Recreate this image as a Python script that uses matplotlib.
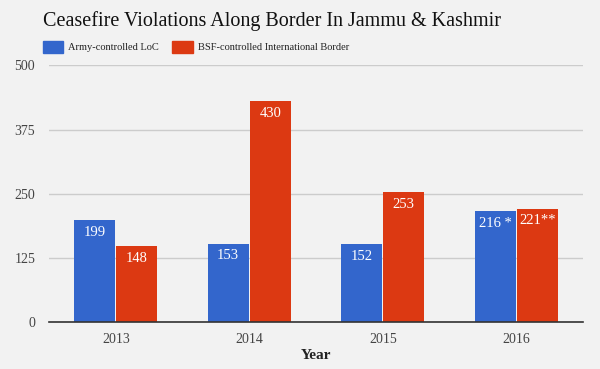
import numpy as np
import matplotlib
matplotlib.use("Agg")
import matplotlib.pyplot as plt
import matplotlib.patches as mpatches

# DATA
years = ["2013", "2014", "2015", "2016"]
loc_values = [199, 153, 152, 216]
ib_values = [148, 430, 253, 221]
loc_labels = ["199", "153", "152", "216 *"]
ib_labels = ["148", "430", "253", "221**"]
series_names = ["Army-controlled LoC", "BSF-controlled International Border"]

plt.rcParams['font.family'] = ['Liberation Serif', 'DejaVu Serif']

BG = '#f2f2f2'
BLUE = '#3366cc'
RED = '#dc3912'

fig = plt.figure(figsize=(6, 3.69), dpi=100, facecolor=BG)
ax = fig.add_axes([0.0817, 0.1266, 0.89, 0.6964], facecolor=BG)

x = np.arange(len(years))
w = 0.307
ax.bar(x - w/2 - 0.004, loc_values, width=w, color=BLUE, zorder=3)
ax.bar(x + w/2 + 0.004, ib_values, width=w, color=RED, zorder=3)

for i in range(len(years)):
    ax.text(x[i] - w/2 - 0.004, loc_values[i] - 11, loc_labels[i], ha='center', va='top',
            color='white', fontsize=10.5, zorder=4)
    ax.text(x[i] + w/2 + 0.004, ib_values[i] - 11, ib_labels[i], ha='center', va='top',
            color='white', fontsize=10.5, zorder=4)

ax.set_xlim(-0.5, 3.5)
ax.set_ylim(0, 500)
ax.set_yticks([0, 125, 250, 375, 500])
ax.set_xticks(x)
ax.set_xticklabels(years)
ax.tick_params(axis='both', length=0, labelsize=10, labelcolor='#444444')
ax.tick_params(axis='y', pad=10)
ax.tick_params(axis='x', pad=8)
ax.grid(axis='y', color='#cccccc', linewidth=1, zorder=0)
for s in ['top', 'right', 'left']:
    ax.spines[s].set_visible(False)
ax.spines['bottom'].set_color('#333333')
ax.spines['bottom'].set_linewidth(1.2)
ax.spines['bottom'].set_zorder(5)

ax.set_xlabel("Year", fontsize=11, fontweight='bold', color='#222222', labelpad=2)

fig.text(43/600, 1 - 21/369, "Ceasefire Violations Along Border In Jammu & Kashmir",
         fontsize=14.5, color='#111111', va='center', ha='left')

# legend boxes
fig.patches.append(mpatches.Rectangle((43/600, 1 - 53/369), 20/600, 12/369,
                                      transform=fig.transFigure, color=BLUE))
fig.text(68/600, 1 - 47/369, series_names[0], fontsize=7.5, color='#222222', va='center')
fig.patches.append(mpatches.Rectangle((172/600, 1 - 53/369), 21/600, 12/369,
                                      transform=fig.transFigure, color=RED))
fig.text(198/600, 1 - 47/369, series_names[1], fontsize=7.5, color='#222222', va='center')

fig.savefig("out.png", dpi=100, facecolor=BG)
